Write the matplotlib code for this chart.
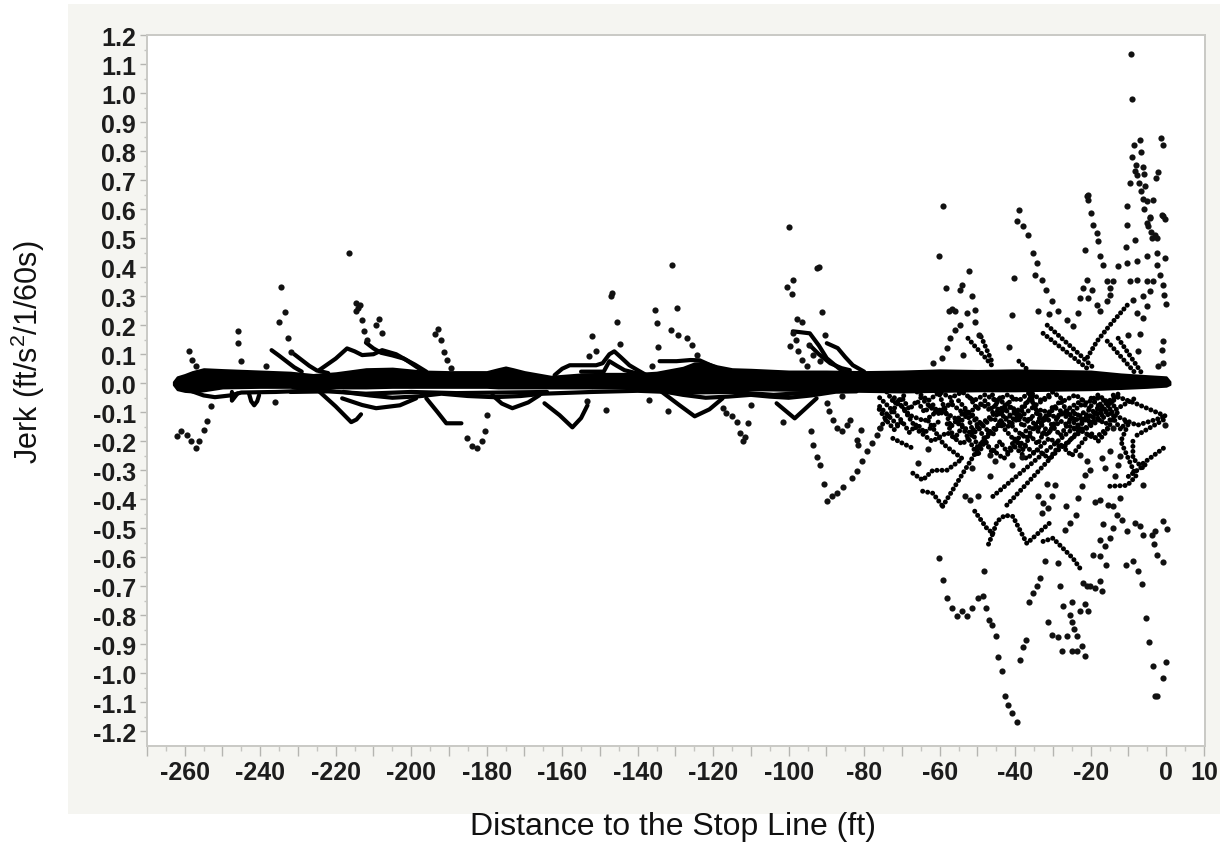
import matplotlib
matplotlib.use("Agg")
import matplotlib.pyplot as plt
from matplotlib.patches import Rectangle

plt.rcParams['font.family'] = ['Liberation Sans', 'DejaVu Sans']
plt.rcParams['mathtext.default'] = 'regular'

# ---------- data ----------
band_x = [-263, -262, -260, -258, -255, -250, -240, -232, -226, -220, -212, -205, -197, -190, -180, -177, -175, -173, -170, -163, -155, -150, -140, -135, -128, -125, -122, -119, -115, -110, -100, -90, -80, -70, -60, -50, -40, -30, -20, -12, -5, 0, 1]
band_top = [.005, .022, .03, .04, .05, .047, .042, .038, .03, .036, .05, .052, .042, .04, .04, .05, .056, .05, .04, .024, .032, .034, .034, .038, .055, .07, .072, .06, .05, .048, .042, .042, .04, .042, .046, .044, .046, .044, .042, .032, .026, .022, .006]
band_bot = [-.005, -.022, -.028, -.03, -.026, -.016, -.014, -.014, -.024, -.016, -.016, -.014, -.014, -.014, -.014, -.016, -.016, -.016, -.016, -.016, -.016, -.016, -.016, -.02, -.022, -.022, -.026, -.026, -.024, -.022, -.024, -.026, -.028, -.03, -.028, -.026, -.026, -.024, -.022, -.018, -.014, -.01, -.004]

low_a = [(-258, -.028), (-255, -.042), (-252, -.048), (-248, -.042), (-245, -.032), (-236, -.03), (-226, -.025)]
low_b = [(-232, -.03), (-222, -.028), (-212, -.036), (-200, -.03), (-188, -.034), (-176, -.032), (-164, -.03)]
low_c = [(-218, -.03), (-211, -.042), (-205, -.05), (-198, -.045), (-192, -.036), (-185, -.044), (-178, -.048), (-171, -.044), (-165, -.036), (-152, -.03)]
low_d = [(-152, -.03), (-140, -.026), (-128, -.032), (-115, -.03), (-104, -.04), (-92, -.03), (-82, -.028)]
low_e = [(-135, -.024), (-128, -.04), (-122, -.05), (-116, -.046), (-110, -.04), (-105, -.046), (-100, -.05), (-94, -.042), (-88, -.03)]
loop_a = [(-247.5, -.03), (-247.5, -.06), (-246, -.035)]
loop_b = [(-243, -.034), (-242.4, -.062), (-241.6, -.076), (-240.8, -.062), (-240.3, -.041)]

hump_a = [(-224.4, .045), (-220, .085), (-217, .12), (-215, .11), (-213, .097), (-210, .1), (-207.7, .114), (-204, .1), (-201.3, .08), (-199, .06), (-196, .034)]
hump_b = [(-212, .14), (-210, .12), (-208, .105), (-205, .096), (-202, .085), (-199, .064), (-196, .04)]
hump_c = [(-237, .114), (-235, .095), (-233, .075), (-231, .055), (-229, .04)]
hump_d = [(-231, .1), (-229, .08), (-227, .06), (-225, .044), (-222, .035)]
hump_e = [(-162, .028), (-160, .05), (-158, .062), (-154.6, .062), (-151, .062), (-149.3, .069), (-147.5, .1), (-146.2, .11), (-144.5, .09), (-142.2, .062), (-140, .045), (-137.7, .028)]
hump_f = [(-155, .04), (-149, .04), (-147.5, .076), (-145.5, .06), (-143.5, .045), (-139, .03)]
hump_g = [(-134.2, .076), (-129.7, .076), (-126, .08), (-123.6, .079), (-120, .058), (-116.4, .034)]
hump_h = [(-98.9, .179), (-94.4, .172), (-92, .13), (-89.9, .086), (-87.5, .06), (-85.7, .041)]
hump_i = [(-89.9, .138), (-87, .121), (-85, .09), (-83, .062), (-80, .04)]
hump_j = [(-94.4, .131), (-92, .1), (-89, .069), (-86, .052), (-83.8, .045)]

dip_a = [(-224.4, -.028), (-220, -.08), (-215.9, -.134), (-214.5, -.125), (-213.3, -.107)]
dip_b = [(-196, -.052), (-193, -.1), (-190.7, -.138), (-186.7, -.138)]
dip_c = [(-178.5, -.041), (-176, -.07), (-173.2, -.086), (-169, -.066), (-166, -.041)]
dip_d = [(-164.7, -.069), (-160.7, -.11), (-157.3, -.152), (-155, -.12), (-153.3, -.076)]
dip_e = [(-134.2, -.024), (-129, -.075), (-124.9, -.114), (-121, -.09), (-117.5, -.052)]
dip_f = [(-103.2, -.069), (-98.4, -.121), (-92.6, -.052)]
dip_g = [(-218.3, -.052), (-213, -.075), (-209.3, -.086), (-203, -.076), (-198.7, -.052)]

web_a = [(-72, -.05), (-68, -.11), (-64, -.13), (-60, -.09), (-56, -.12), (-52, -.17), (-48, -.13), (-44, -.09), (-40, -.05)]
web_b = [(-70, -.08), (-66, -.16), (-62, -.2), (-58, -.17), (-54, -.21), (-50, -.16), (-46, -.12), (-42, -.15), (-38, -.11), (-34, -.07), (-30, -.04)]
web_c = [(-65, -.05), (-61, -.1), (-57, -.07), (-53, -.11), (-49, -.07), (-45, -.11), (-41, -.08), (-37, -.13), (-33, -.09), (-29, -.12), (-25, -.08), (-21, -.05)]
web_d = [(-60, -.04), (-57, -.15), (-53, -.09), (-50, -.22), (-47, -.18), (-44, -.14), (-40, -.2), (-36, -.15), (-32, -.18), (-28, -.13), (-24, -.16), (-20, -.11), (-16, -.14), (-12, -.09)]
web_e = [(-75.9, -.155), (-72, -.086), (-69, -.034)]
web_f = [(-46.7, -.166), (-42, -.12), (-38, -.08), (-35, -.04)]
web_g = [(-45.9, -.39), (-30, -.214), (-26, -.17), (-20, -.11), (-15, -.06), (-12, -.03)]
web_h = [(-42.2, -.42), (-28.9, -.234), (-24, -.18), (-18, -.13), (-12, -.08), (-8, -.05)]
web_i = [(-59.2, -.424), (-49.3, -.214), (-46.7, -.166)]
web_j = [(-14, -.041), (-8, -.07), (0, -.114), (-7.7, -.145), (-12, -.12), (-17, -.09), (-20, -.05)]
web_k = [(-7.7, -.179), (0, -.121)]
web_l = [(-6.1, -.276), (0, -.217)]
web_m = [(-10, -.321), (-5, -.276)]
web_n = [(-8.8, -.2), (-8.8, -.259), (-6.1, -.293)]
web_o = [(-14.9, -.355), (-10.3, -.352), (-8, -.32), (-10, -.26), (-12, -.2), (-10, -.14)]
web_p = [(-55, -.06), (-51, -.12), (-47, -.22), (-43, -.26), (-39, -.2), (-35, -.24), (-31, -.19), (-27, -.22), (-23, -.16), (-19, -.19), (-15, -.15)]
web_q = [(-36, -.04), (-33, -.14), (-30, -.08), (-26, -.11), (-22, -.07), (-18, -.11), (-14, -.06)]
web_r = [(-64.5, -.372), (-61.8, -.379), (-59.2, -.424)]
web_s = [(-67.1, -.31), (-64.5, -.334), (-61.8, -.3), (-58.1, -.3), (-54.6, -.266)]
web_t = [(-72.4, -.19), (-69.8, -.207), (-67.1, -.224)]
web_u = [(-50.7, -.441), (-47.5, -.5), (-45.9, -.517), (-47.5, -.569)]
web_v = [(-45.9, -.517), (-44.8, -.476), (-42.7, -.455), (-40.6, -.459), (-36.9, -.552), (-31.6, -.49), (-30, -.472)]
web_w = [(-32.6, -.545), (-30, -.534), (-24.7, -.603), (-22.8, -.638)]
web_x = [(-32.6, .172), (-21, .052)]
web_y = [(-31.5, .2), (-23, .1), (-19, .05)]
web_z = [(-15.6, .145), (-7.7, .028)]
web_aa = [(-12.7, .155), (-6.1, .028)]
web_ab = [(-52.5, .155), (-50.7, .128), (-48.5, .097), (-46.2, .062)]
web_ac = [(-49, .16), (-46, .07)]
web_ad = [(-10.3, .269), (-14.9, .2), (-18.3, .145), (-21, .086)]
web_ae = [(-39, .076), (-37, .05)]
web_ba = [(-74, -.03), (-72, -.07), (-70, -.05), (-68, -.09), (-66, -.06), (-64, -.1), (-62, -.07), (-60, -.11), (-58, -.08), (-56, -.05)]
web_bb = [(-76, -.09), (-74, -.13), (-72, -.16), (-70, -.13), (-68, -.17), (-66, -.14), (-64, -.17), (-62, -.15), (-60, -.13)]
web_bc = [(-58, -.14), (-56, -.19), (-54, -.15), (-52, -.2), (-50, -.25), (-48, -.2), (-46, -.24), (-44, -.2), (-42, -.24), (-40, -.19), (-38, -.23), (-36, -.18), (-34, -.21), (-32, -.16)]
web_bd = [(-52, -.05), (-50, -.09), (-48, -.06), (-46, -.09), (-44, -.05), (-42, -.1), (-40, -.13), (-38, -.09), (-36, -.05), (-34, -.1), (-32, -.13), (-30, -.09), (-28, -.06), (-26, -.1), (-24, -.13), (-22, -.1), (-20, -.14), (-18, -.08), (-16, -.05)]
web_be = [(-46, -.04), (-44, -.11), (-42, -.07), (-40, -.1), (-38, -.15), (-36, -.12), (-34, -.16), (-32, -.11), (-30, -.15), (-28, -.18), (-26, -.14), (-24, -.1), (-22, -.13), (-20, -.08), (-18, -.05)]
web_bf = [(-66, -.03), (-63, -.06), (-60, -.03), (-57, -.05), (-54, -.03), (-51, -.06), (-48, -.04), (-45, -.06), (-42, -.04), (-39, -.06), (-36, -.03), (-33, -.06), (-30, -.03), (-27, -.06), (-24, -.04), (-21, -.07), (-18, -.04), (-15, -.07), (-12, -.04)]
web_bg = [(-40, -.22), (-37, -.26), (-34, -.23), (-31, -.26), (-28, -.21), (-25, -.25), (-22, -.2), (-20, -.17), (-18, -.2), (-16, -.17), (-14, -.12), (-12, -.16), (-10, -.12)]
web_bh = [(-63, -.13), (-61, -.17), (-59, -.21), (-56, -.24), (-54, -.26)]
web_bi = [(-75.9, -.05), (-72, -.1), (-70, -.13)]
web_bj = [(-75.9, -.08), (-73, -.12), (-71, -.145)]
web_bk = [(-55, -.14), (-52, -.1), (-49, -.14), (-46, -.18), (-43, -.11), (-40, -.16), (-37, -.19), (-34, -.13), (-31, -.17), (-28, -.1), (-25, -.13), (-22, -.16), (-19, -.13), (-16, -.1), (-13, -.07)]

dots_left = [(-259, .11), (-258, .08), (-257, .06), (-262, -.183), (-261, -.166), (-259.5, -.18), (-258.4, -.2), (-257, -.224), (-256.2, -.2), (-255, -.162), (-254, -.13), (-253, -.08),
             (-246, .18), (-246, .138), (-245, .076), (-234.5, .33), (-233.4, .245), (-235, .21), (-232.7, .155), (-231.8, .107), (-238.5, .06), (-236, -.065),
             (-216.4, .45), (-214.6, .275), (-214, .26), (-214.6, .25), (-213.5, .27), (-213, .217), (-212.5, .18), (-211.7, .148), (-208.5, .22), (-209.3, .2), (-207.7, .172),
             (-192.8, .186), (-193.6, .169), (-192, .148), (-191.2, .107), (-190.5, .08), (-189.4, .052),
             (-185.1, -.19), (-183.8, -.217), (-182.5, -.224), (-181.2, -.2), (-180.4, -.166), (-179.8, -.11)]
dots_middle = [(-130.8, .407), (-146.7, .31), (-147, .3), (-145.4, .21), (-152.2, .162), (-144.6, .134), (-151, .11), (-152.8, .093),
               (-135.5, .252), (-129.7, .259), (-135, .207), (-131.3, .183), (-134.5, .124), (-129.4, .166), (-127, .155), (-125.7, .131), (-124.4, .097), (-136.3, .059),
               (-136.9, -.059), (-132, -.097), (-148.5, -.093), (-153.3, -.062), (-110.9, -.138), (-112.2, -.2), (-111.7, -.186), (-113, -.172), (-113.8, -.134), (-114.9, -.114), (-116.5, -.103), (-117.5, -.086), (-110, -.076), (-101.6, -.134),
               (-92.6, .397), (-92, .4), (-98.9, .355), (-100.5, .331), (-99.2, .307), (-100, .54), (-91.2, .245), (-97.9, .22), (-96.6, .21), (-90.5, .165),
               (-98.9, .172), (-98.1, .148), (-99.7, .128), (-97.6, .11), (-96.6, .08), (-95.2, .059), (-94.7, .131), (-93.6, .097), (-91.8, .076),
               (-94.2, -.166), (-93.6, -.214), (-92.6, -.255), (-91.8, -.283), (-90.7, -.348), (-89.9, -.069), (-89.4, -.097), (-88.3, -.128), (-87.3, -.155), (-86, -.166), (-84.6, -.145), (-83.8, -.128), (-80.9, -.162), (-82, -.197), (-81.7, -.214), (-86, -.045),
               (-89.9, -.407), (-88.6, -.39), (-87.3, -.379), (-85.7, -.359), (-83.3, -.328), (-82, -.303), (-80.6, -.269), (-79.3, -.234), (-78, -.207), (-76.7, -.179), (-75.9, -.155)]
dots_upper_right = [(-59.2, .61), (-60.2, .438), (-52.3, .386), (-58.4, .328), (-54, .338), (-54.6, .32), (-51.5, .3), (-56.8, .255), (-57.5, .25), (-56, .25), (-50.7, .252), (-52.8, .241), (-50.7, .21), (-54.6, .2), (-56, .183), (-57.3, .155), (-58.1, .121), (-59.4, .086), (-61.8, .069), (-53.8, .097), (-49.6, .166),
                    (-39, .597), (-39.5, .559), (-37.9, .541), (-36.6, .51), (-35.3, .448), (-34.2, .414), (-34.7, .372), (-32.9, .355), (-31.8, .32), (-30.2, .283), (-28.6, .248), (-26.3, .217), (-24.7, .197),
                    (-40.3, .362), (-40.8, .234), (-41.6, .124), (-34, .248), (-31, .238),
                    (-21, .645), (-20.7, .648), (-20.7, .631), (-19.9, .586), (-19.4, .545), (-18.3, .517), (-18, .49), (-17.5, .438), (-16.7, .407), (-21.5, .459),
                    (-22, .328), (-21, .355), (-19.6, .32), (-23.3, .241), (-22.8, .293), (-20.7, .293), (-18.3, .269), (-17.5, .248), (-15.6, .283), (-14.9, .303), (-15.6, .352), (-14.9, .328), (-14, .352), (-12.7, .403), (-10.3, .414), (-7.7, .42), (-5, .438), (-2.4, .448), (-.3, .431), (-2.4, .407), (-1.6, .372), (-.8, .338), (-.5, .303), (0, .272)]
dots_peak = [(-9.3, 1.134), (-9, .979), (-6.9, .838), (-8.5, .821), (-6.6, .797), (-9, .779), (-8, .752), (-6.1, .745), (-8.2, .731), (-7.7, .717), (-5.8, .721), (-9.5, .69), (-7.2, .69), (-5.6, .679), (-6.6, .662), (-6.1, .634), (-5, .628), (-3.4, .631), (-5.8, .6), (-10.3, .61), (-1.3, .845), (-.8, .821), (-2.1, .728), (-2.7, .707), (-4.2, .572), (-5, .552), (-4.8, .541), (-1.1, .579), (-.3, .566), (-10.3, .545), (-10.6, .469), (-8.2, .493),
             (-4.2, .569), (-4, .52), (-3.8, .5), (-3, .51), (-2.4, .5), (-.8, .576), (-9.5, .352), (-7.7, .355), (-5, .352), (-3.4, .352), (-4.2, .317), (-6.1, .3), (-8.8, .286), (-7.7, .241), (-6.1, .224), (-5, .266), (-10.1, .166), (-6.9, .169), (-7.4, .11), (-.8, .145), (-1.1, .114), (-2.1, .059), (-.8, .069)]
dots_low_left = [(-60.2, -.603), (-59.2, -.679), (-58.1, -.741), (-56.8, -.776), (-55.4, -.803), (-54.1, -.786), (-52.8, -.803), (-51.5, -.776), (-49.9, -.741), (-48.5, -.734), (-47.7, -.776), (-46.9, -.817), (-46.2, -.834), (-45.1, -.872), (-44.6, -.945), (-43.5, -.99), (-42.7, -1.076), (-41.9, -1.11), (-40.8, -1.138), (-39.5, -1.166), (-48.3, -.648),
                 (-65.8, -.276), (-63.1, -.228), (-53.3, -.39), (-52, -.403), (-49.9, -.39), (-45.4, -.269), (-46.7, -.248), (-40.8, -.283), (-38.2, -.255), (-46.7, -.321), (-51.5, -.293)]
dots_low_mid = [(-33.4, -.672), (-34.2, -.7), (-35.3, -.724), (-36.3, -.755), (-32.1, -.614), (-28.6, -.62), (-28.1, -.7), (-22, -.69), (-20.2, -.697), (-18.8, -.707), (-17.5, -.683), (-17, -.717), (-21, -.7),
                (-27.3, -.769), (-25.5, -.8), (-22.8, -.786), (-21.5, -.759), (-20.7, -.786), (-24.9, -.755), (-31.3, -.824), (-24.9, -.821), (-24.4, -.848), (-30.2, -.869), (-28.6, -.876), (-26.3, -.872), (-23.6, -.872),
                (-27.6, -.921), (-24.9, -.924), (-23.6, -.924), (-22.3, -.907), (-21.5, -.941), (-37.1, -.886), (-37.9, -.91), (-38.7, -.952),
                (-31.6, -.348), (-29.4, -.352), (-30.2, -.39), (-34, -.39), (-32.6, -.414), (-31.3, -.431), (-32.9, -.448), (-26.5, -.424), (-26.8, -.507), (-25.5, -.483), (-23.9, -.455)]
dots_low_right = [(-23.3, -.397), (-22.3, -.355), (-21.5, -.317), (-20.2, -.3), (-21, -.269), (-22.8, -.248), (-18.8, -.41), (-17.5, -.403), (-15.4, -.421), (-14, -.424),
                  (-12.2, -.397), (-13, -.455), (-11.7, -.472), (-14, -.5), (-14.9, -.534), (-16.2, -.562), (-17.5, -.541), (-16.7, -.486), (-19.4, -.593), (-17.5, -.597), (-15.9, -.628),
                  (-10.3, -.51), (-8.2, -.483), (-6.9, -.493), (-6.1, -.524), (-3.7, -.524), (-2.9, -.51), (-.8, -.476), (.2, -.503), (-3.2, -.555), (-2.4, -.593), (-.8, -.617), (-10.6, -.628), (-8.8, -.614), (-7.4, -.648), (-6.4, -.693),
                  (-5.3, -.81), (-4.5, -.89), (-3.4, -.976), (0, -.959), (-.8, -1.017), (-2.4, -1.076), (-3, -1.076), (-6.1, -.352), (-14, -.155), (-14.9, -.234), (-17, -.259), (-16.2, -.293), (-12.7, -.283), (-12.2, -.252), (-13.5, -.321), (-.3, -.145)]

x_major = [-270, -260, -250, -240, -230, -220, -210, -200, -190, -180, -170, -160, -150, -140, -130, -120, -110, -100, -90, -80, -70, -60, -50, -40, -30, -20, -10, 0, 10]
x_labels = ['', '-260', '', '-240', '', '-220', '', '-200', '', '-180', '', '-160', '', '-140', '', '-120', '', '-100', '', '-80', '', '-60', '', '-40', '', '-20', '', '0', '10']
y_major = [-1.2, -1.1, -1.0, -0.9, -0.8, -0.7, -0.6, -0.5, -0.4, -0.3, -0.2, -0.1, 0.0, 0.1, 0.2, 0.3, 0.4, 0.5, 0.6, 0.7, 0.8, 0.9, 1.0, 1.1, 1.2]
y_labels = ['-1.2', '-1.1', '-1.0', '-0.9', '-0.8', '-0.7', '-0.6', '-0.5', '-0.4', '-0.3', '-0.2', '-0.1', '0.0', '0.1', '0.2', '0.3', '0.4', '0.5', '0.6', '0.7', '0.8', '0.9', '1.0', '1.1', '1.2']
x_name = 'Distance to the Stop Line (ft)'
y_name = 'Jerk (ft/s$^{2}$/1/60s)'

thick_traces = [low_a, low_b, low_c, low_d, low_e, loop_a, loop_b, hump_a, hump_b, hump_c, hump_d, hump_e, hump_f, hump_g, hump_h, hump_i, hump_j,
                dip_a, dip_b, dip_c, dip_d, dip_e, dip_f, dip_g]
web_traces = [web_a, web_b, web_c, web_d, web_e, web_f, web_g, web_h, web_i, web_j, web_k, web_l, web_m, web_n, web_o, web_p, web_q, web_r, web_s, web_t, web_u, web_v, web_w, web_x, web_y, web_z, web_aa, web_ab, web_ac, web_ad, web_ae,
              web_ba, web_bb, web_bc, web_bd, web_be, web_bf, web_bg, web_bh, web_bi, web_bj, web_bk]
dot_groups = [dots_left, dots_middle, dots_upper_right, dots_peak, dots_low_left, dots_low_mid, dots_low_right]

# ---------- figure ----------
W, H = 1226, 845
fig = plt.figure(figsize=(W / 100, H / 100), dpi=100, facecolor='white')
fig.add_artist(Rectangle((68 / W, 1 - 815 / H), (1220 - 68) / W, (815 - 5) / H, transform=fig.transFigure, facecolor='#F5F5F1', edgecolor='none', zorder=-5))
ax = fig.add_axes([147 / W, 1 - 747 / H, (1205 - 147) / W, (747 - 36) / H], facecolor='white')
ax.set_xlim(-270, 10.3)
ax.set_ylim(-1.25, 1.2)

ax.fill_between(band_x, band_bot, band_top, color='black', lw=1.5, zorder=3)
for tr in thick_traces:
    xs, ys = zip(*tr)
    ax.plot(xs, ys, color='black', lw=3, solid_capstyle='round', solid_joinstyle='round', zorder=3)
for tr in web_traces:
    xs, ys = zip(*tr)
    ax.plot(xs, ys, color='black', lw=3.6, linestyle=(0, (0.01, 1.0)), dash_capstyle='round', zorder=3)
for grp in dot_groups:
    xs, ys = zip(*grp)
    ax.scatter(xs, ys, s=20, color='#111111', linewidths=0, zorder=4)

for side in ['top', 'right', 'left', 'bottom']:
    ax.spines[side].set_color('#c9c9c5')
    ax.spines[side].set_linewidth(1.4)
ax.set_xticks(x_major)
ax.set_xticklabels(x_labels, fontweight='bold', fontsize=18, color='#1c1c1c')
ax.set_xticks([v + 5 for v in x_major[:-1]], minor=True)
ax.set_yticks(y_major)
ax.set_yticklabels(y_labels, fontweight='bold', fontsize=18, color='#1c1c1c')
ax.set_yticks([v + 0.05 for v in y_major[:-1]], minor=True)
ax.tick_params(axis='x', which='major', length=7, width=1, color='#b5b5b1', pad=3)
ax.tick_params(axis='x', which='minor', length=3.5, width=1, color='#c5c5c1')
ax.tick_params(axis='y', which='major', length=5, width=1, color='#b5b5b1', pad=3)
ax.tick_params(axis='y', which='minor', length=2.5, width=1, color='#c5c5c1')

fig.text(673 / W, 1 - 827 / H, x_name, ha='center', va='center', fontsize=23, color='#111111')
fig.text(28 / W, 1 - 352 / H, y_name, ha='center', va='center', rotation=90, fontsize=22, color='#111111')

fig.savefig('out.png', dpi=100, facecolor='white')
